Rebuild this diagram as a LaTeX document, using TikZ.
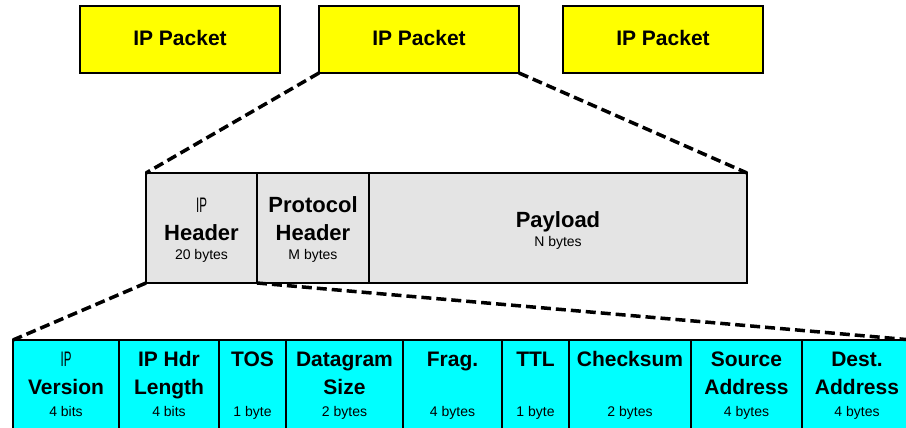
\documentclass[tikz,border=0pt]{standalone}
\usepackage{fontspec}
\usepackage{graphicx}
\setmainfont{Liberation Sans}
\setsansfont{Liberation Sans}
\usetikzlibrary{positioning}
\definecolor{pktyel}{HTML}{FFFF00}
\definecolor{hdrgrey}{HTML}{E4E4E4}
\definecolor{fldcyan}{HTML}{00FFFF}
% narrow, light "IP" above the header labels
\newcommand{\thinip}{\scalebox{0.55}[1]{\mdseries\fontsize{21}{21}\selectfont IP}}
\tikzset{
  every node/.append style={font=\sffamily, text=black},
  cell/.style={draw=black, line width=1.6pt, inner sep=0pt, outer sep=0pt, anchor=north west},
  pkt/.style={cell, fill=pktyel, minimum width=200pt, minimum height=67pt},
  seg/.style={cell, fill=hdrgrey, minimum height=110pt},
  fld/.style={cell, fill=fldcyan, minimum height=100pt},
  pkttxt/.style={anchor=base, font=\sffamily\bfseries\fontsize{21}{21}\selectfont},
  segtxt/.style={anchor=base, font=\sffamily\bfseries\fontsize{22}{22}\selectfont},
  fldtxt/.style={anchor=base, font=\sffamily\bfseries\fontsize{21}{21}\selectfont},
  sizetxt/.style={anchor=base, font=\sffamily\fontsize{14}{14}\selectfont},
  zoomline/.style={draw=black, line width=3.5pt, dash pattern=on 10pt off 5pt},
}

\begin{document}
\begin{tikzpicture}[x=1pt,y=-1pt]
  \useasboundingbox (0,0) rectangle (906,428);
  \clip (0,0) rectangle (906,428);
  % --- packet stream ---
  \foreach \n/\x in {pkta/80,pktb/319,pktc/563}{
    \node[pkt] (\n) at (\x,6){};
    \node[pkttxt] (\n-t) at (\x+100,45.5){IP Packet};}
  % --- one packet opened up ---
  \node[seg, minimum width=111pt] (iphdr) at (146,173){};
  \node[seg, minimum width=112pt, right=0pt of iphdr] (prothdr){};
  \node[seg, minimum width=378pt, right=0pt of prothdr] (payload){};
  \node[anchor=base] (iphdr-a) at (201.5,212){\thinip};
  \node[segtxt] (iphdr-b) at (201.5,240){Header};
  \node[sizetxt] (iphdr-c) at (201.5,259){20 bytes};
  \node[segtxt] (prothdr-a) at (313,212){Protocol};
  \node[segtxt] (prothdr-b) at (313,240){Header};
  \node[sizetxt] (prothdr-c) at (313,259){M bytes};
  \node[segtxt] (payload-a) at (558,227){Payload};
  \node[sizetxt] (payload-c) at (558,246){N bytes};
  % --- IP header fields ---
  \foreach \n/\xa/\xb/\ta/\tb/\tc in {ver/13/119/\thinip/Version/4 bits,
      hlen/119/219/IP Hdr/Length/4 bits, tos/219/286/TOS//1 byte,
      dsize/286/403/Datagram/Size/2 bytes, frag/403/502/Frag.//4 bytes,
      ttl/502/569/TTL//1 byte, csum/569/691/Checksum//2 bytes,
      src/691/802/Source/Address/4 bytes, dst/802/912/Dest./Address/4 bytes}{
    \node[fld, minimum width={(\xb-\xa)*1pt}] (\n) at (\xa,340){};
    \node[fldtxt] (\n-a) at ({(\xa+\xb)/2},366){\ta};
    \node[fldtxt] (\n-b) at ({(\xa+\xb)/2},394){\tb};
    \node[sizetxt] (\n-c) at ({(\xa+\xb)/2},416){\tc};}
  % --- zoom lines ---
  \draw[zoomline] (pktb.south west) -- (iphdr.north west);
  \draw[zoomline] (pktb.south east) -- (payload.north east);
  \draw[zoomline] (iphdr.south west) -- (ver.north west);
  \draw[zoomline] (iphdr.south east) -- (dst.north east);
\end{tikzpicture}
\end{document}
